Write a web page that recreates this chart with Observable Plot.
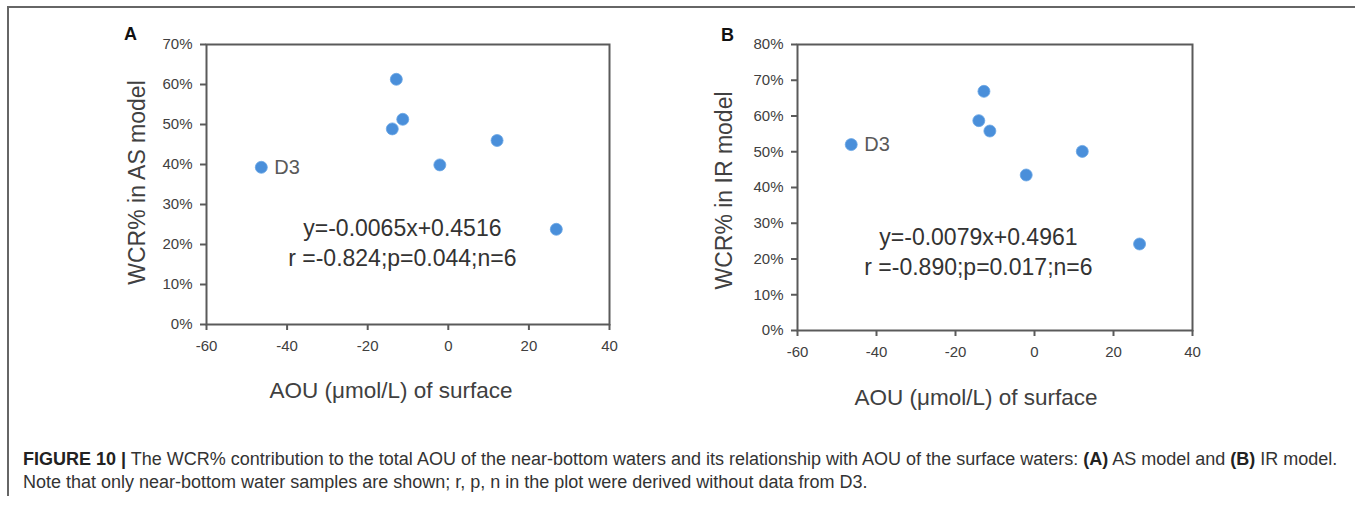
<!DOCTYPE html>
<html><head><meta charset="utf-8">
<script src="https://cdn.jsdelivr.net/npm/d3@7"></script>
<script src="https://cdn.jsdelivr.net/npm/@observablehq/plot@0.6"></script>
<style>
body{margin:0;background:#fff;}
#fig{position:relative;width:1355px;height:509px;overflow:hidden;font-family:"Liberation Sans",Arial,sans-serif;background:#fff;}
.bl{position:absolute;left:7px;top:6px;width:2px;height:490px;background:#666;}
.bt{position:absolute;left:7px;top:6px;right:0;height:2px;background:#666;}
#pa{position:absolute;left:0;top:0}
#pb{position:absolute;left:680px;top:0}
#cap{position:absolute;left:23px;top:448px;width:1330px;font-size:18px;line-height:23px;color:#333;white-space:nowrap;}
#cap b{color:#222}
</style>
</head><body>
<div id="fig">
<div class="bl"></div><div class="bt"></div>
<div id="pa"></div><div id="pb"></div>
<div id="cap"><b>FIGURE 10 |</b> The WCR% contribution to the total AOU of the near-bottom waters and its relationship with AOU of the surface waters: <b>(A)</b> AS model and <b>(B)</b> IR model.<br>Note that only near-bottom water samples are shown; r, p, n in the plot were derived without data from D3.</div>
</div>
<script>
// ---- data ----
const stations = ["D3", "", "", "", "", "", ""];
const aouA = [-46.4, -12.9, -13.9, -11.3, -2.1, 12.1, 26.8];
const wcrAS = [0.393, 0.613, 0.489, 0.513, 0.399, 0.460, 0.238];
const aouB = [-46.4, -12.8, -14.1, -11.3, -2.1, 12.1, 26.6];
const wcrIR = [0.520, 0.669, 0.587, 0.558, 0.435, 0.501, 0.242];
const xTicks = [-60, -40, -20, 0, 20, 40];
const yTicksA = [0, 0.1, 0.2, 0.3, 0.4, 0.5, 0.6, 0.7];
const yTicksB = [0, 0.1, 0.2, 0.3, 0.4, 0.5, 0.6, 0.7, 0.8];
const eqA = ["y=-0.0065x+0.4516", "r =-0.824;p=0.044;n=6"];
const eqB = ["y=-0.0079x+0.4961", "r =-0.890;p=0.017;n=6"];
const eqAx = [-11.4, -11.4], eqAy = [0.24, 0.165];
const eqBx = [-14.2, -14.2], eqBy = [0.261, 0.177];
const xTitle = "AOU (μmol/L) of surface";
const yTitleA = "WCR% in AS model";
const yTitleB = "WCR% in IR model";

const dotColor = "#4a8fda";
const axisColor = "#404040";
const frameColor = "#5a5a5a";
const pct = d => Math.round(d * 100) + "%";
const num = d => String(d);

function panel(o) {
  const rows = stations.map((s, i) => ({s, x: o.xs[i], y: o.ys[i]}));
  const eq = o.eq.map((t, i) => ({t, x: o.ex[i], y: o.ey[i]}));
  return Plot.plot({
    width: o.width, height: o.height,
    marginLeft: o.ml, marginRight: o.mr, marginTop: o.mt, marginBottom: o.mb,
    style: {fontFamily: '"Liberation Sans", Arial, sans-serif', fontSize: "15px", background: "transparent", color: axisColor},
    x: {domain: [-60, 40]},
    y: {domain: o.ydom},
    marks: [
      Plot.frame({stroke: frameColor, strokeWidth: 2}),
      Plot.axisX({ticks: xTicks, tickSize: 6, tickPadding: 10, fontSize: 15, tickFormat: num, label: null, stroke: frameColor, strokeWidth: 2, fill: axisColor}),
      Plot.axisY({ticks: o.yticks, tickSize: 6, tickPadding: 8, fontSize: 15, label: null, tickFormat: pct, stroke: frameColor, strokeWidth: 2, fill: axisColor}),
      Plot.dot(rows, {x: "x", y: "y", r: 6, fill: dotColor, stroke: "#6aa6e4", strokeWidth: 0.8}),
      Plot.text(rows.filter(d => d.s), {x: "x", y: "y", text: "s", dx: 13, textAnchor: "start", fontSize: 20, fill: "#595959"}),
      Plot.text(eq, {x: "x", y: "y", text: "t", fontSize: 23, fill: "#333"}),
      Plot.text([xTitle], {frameAnchor: "bottom", textAnchor: "middle", lineAnchor: "middle", dx: o.xtdx, dy: o.xtdy, fontSize: 22.5, fill: axisColor}),
      Plot.text([o.ytitle], {frameAnchor: "left", textAnchor: "middle", lineAnchor: "middle", dx: o.ytdx, dy: o.ytdy, rotate: -90, fontSize: 23, fill: axisColor}),
      Plot.text([o.letter], {frameAnchor: "top-left", textAnchor: "middle", lineAnchor: "middle", dx: o.ldx, dy: o.ldy, fontSize: 18, fontWeight: "bold", fill: "#111"})
    ]
  });
}

document.getElementById("pa").append(panel({
  xs: aouA, ys: wcrAS, ydom: [0, 0.7], yticks: yTicksA, eq: eqA, ex: eqAx, ey: eqAy,
  width: 680, height: 420, ml: 206, mr: 71, mt: 44, mb: 96,
  xtdx: -17, xtdy: 66, ytitle: yTitleA, ytdx: -69, ytdy: -2, letter: "A", ldx: -76, ldy: -10
}));
document.getElementById("pb").append(panel({
  xs: aouB, ys: wcrIR, ydom: [0, 0.8], yticks: yTicksB, eq: eqB, ex: eqBx, ey: eqBy,
  width: 675, height: 420, ml: 117, mr: 163, mt: 44, mb: 90,
  xtdx: -19, xtdy: 67, ytitle: yTitleB, ytdx: -73, ytdy: 3, letter: "B", ldx: -70, ldy: -9
}));
</script>
</body></html>
